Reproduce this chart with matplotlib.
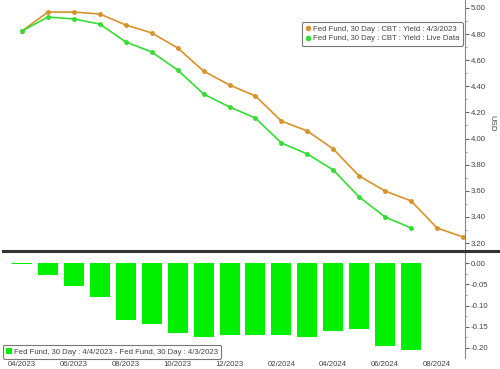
import matplotlib
matplotlib.use("Agg")
import matplotlib.pyplot as plt
from matplotlib.lines import Line2D

plt.rcParams["font.family"] = ["Liberation Sans", "DejaVu Sans"]

months = ["04/2023", "05/2023", "06/2023", "07/2023", "08/2023", "09/2023",
          "10/2023", "11/2023", "12/2023", "01/2024", "02/2024", "03/2024",
          "04/2024", "05/2024", "06/2024", "07/2024", "08/2024", "09/2024"]

yield_apr3 = [4.824, 4.969, 4.969, 4.954, 4.870, 4.809, 4.694, 4.517, 4.410,
              4.326, 4.134, 4.058, 3.920, 3.713, 3.598, 3.522, 3.315, 3.246]
yield_live = [4.824, 4.931, 4.916, 4.877, 4.740, 4.663, 4.525, 4.341, 4.242,
              4.157, 3.966, 3.882, 3.759, 3.552, 3.399, 3.315]
diff = [-0.003, -0.028, -0.055, -0.079, -0.134, -0.144, -0.164, -0.174, -0.169,
        -0.169, -0.169, -0.174, -0.159, -0.155, -0.195, -0.204]

orange = "#d8922a"
green_line = "#33dd33"
green_bar = "#00f000"
txt = "#444444"
fs = 5.6

fig = plt.figure(figsize=(5, 3.69), dpi=100)
ax1 = fig.add_axes([0.0, 1 - 250 / 369, 465 / 500, 250 / 369])
ax2 = fig.add_axes([0.0, 1 - 358 / 369, 465 / 500, 105 / 369])

x_all = list(range(len(months)))
ax1.plot(x_all, yield_apr3, color=orange, lw=1.2, marker="o", ms=2.5,
         label="Fed Fund, 30 Day : CBT : Yield : 4/3/2023")
ax1.plot(x_all[:len(yield_live)], yield_live, color=green_line, lw=1.2,
         marker="o", ms=2.5, label="Fed Fund, 30 Day : CBT : Yield : Live Data")

ax2.bar(x_all[:len(diff)], diff, width=0.77, color=green_bar, linewidth=0,
        label="Fed Fund, 30 Day : 4/4/2023 - Fed Fund, 30 Day : 4/3/2023")

xl = (-22 / 25.94, (465 - 22) / 25.94)
for ax in (ax1, ax2):
    ax.set_xlim(*xl)
    for s in ("left", "top", "bottom"):
        ax.spines[s].set_visible(False)
    ax.spines["right"].set_color("#888888")
    ax.yaxis.tick_right()
    ax.tick_params(axis="y", direction="out", length=3, width=0.8,
                   colors="#666666", labelcolor=txt, labelsize=fs, pad=1)
    ax.tick_params(axis="y", which="minor", length=1.5, width=0.6,
                   colors="#888888")
    ax.set_facecolor("white")

ax1.set_ylim(3.20 - 7 / 130.56, 5.00 + 8 / 130.56)
ax1.set_yticks([3.2 + 0.2 * i for i in range(10)])
ax1.set_yticks([3.3 + 0.2 * i for i in range(9)], minor=True)
ax1.set_yticklabels([f"{3.2 + 0.2 * i:.2f}" for i in range(10)])
ax1.set_xticks([])

ax2.set_ylim(-95 / 425, 10 / 425)
ax2.set_yticks([0, -0.05, -0.10, -0.15, -0.20])
ax2.set_yticks([-0.025, -0.075, -0.125, -0.175], minor=True)
ax2.set_yticklabels(["0.00", "-0.05", "-0.10", "-0.15", "-0.20"])
ax2.set_xticks(x_all[::2])
ax2.set_xticklabels(months[::2])
ax2.tick_params(axis="x", length=0, labelsize=fs, labelcolor=txt, pad=2)

ax1.text(492 / 465, 1 - 123 / 250, "USD", transform=ax1.transAxes,
         rotation=270, ha="center", va="center", fontsize=fs, color=txt)

leg1 = ax1.legend(loc="upper right", bbox_to_anchor=(463 / 465, 1 - 22 / 250),
                  fontsize=fs, frameon=True, fancybox=True, handlelength=0.6,
                  handletextpad=0.4, borderpad=0.45, labelspacing=0.25,
                  borderaxespad=0, markerscale=1.2)
for h in leg1.get_lines():
    h.set_linestyle("none")
leg1.get_frame().set_edgecolor("#555555")
leg1.get_frame().set_linewidth(0.8)
for t in leg1.get_texts():
    t.set_color(txt)

leg2 = ax2.legend(loc="lower left", bbox_to_anchor=(3 / 465, -0.01),
                  fontsize=fs, frameon=True, fancybox=True, handlelength=0.8,
                  handleheight=0.9, handletextpad=0.2, borderpad=0.4,
                  borderaxespad=0)
leg2.get_frame().set_edgecolor("#555555")
leg2.get_frame().set_linewidth(0.8)
for t in leg2.get_texts():
    t.set_color(txt)

fig.add_artist(Line2D([3 / 500, 1.0], [1 - 251 / 369, 1 - 251 / 369],
                      transform=fig.transFigure, color="#333333", lw=2.2))

fig.savefig("out.png", dpi=100, facecolor="white")
